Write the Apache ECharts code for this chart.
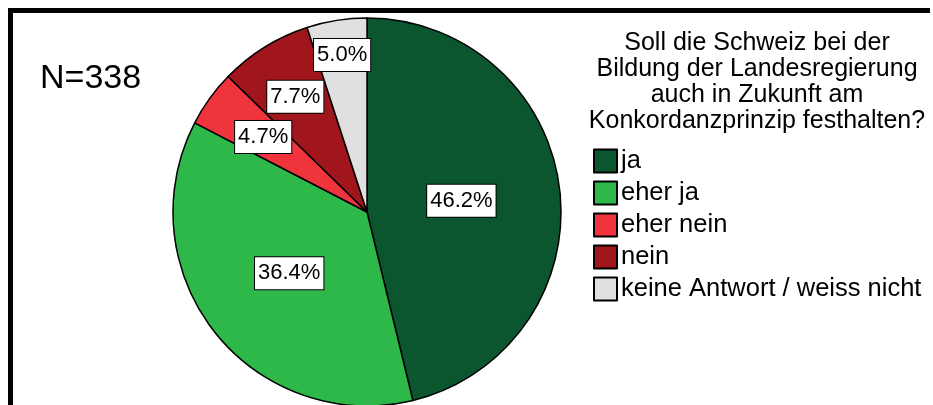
<!DOCTYPE html>
<html>
<head>
<meta charset="utf-8">
<script src="https://cdn.jsdelivr.net/npm/echarts@6/dist/echarts.min.js"></script>
<style>
  html, body { margin: 0; padding: 0; background: #fff; }
  #chart-container { width: 933px; height: 405px; }
</style>
</head>
<body>
<div id="chart-container"></div>
<script>
// Antwortkategorien und Anteile in Prozent
const categories = ["ja", "eher ja", "eher nein", "nein", "keine Antwort / weiss nicht"];
const percents = [46.2, 36.4, 4.7, 7.7, 5.0];
const colors = ["#0b562e", "#2fb84a", "#f0343e", "#a0161c", "#e0e0e0"];
const sampleSize = 338;
const legendTitle = "Soll die Schweiz bei der\nBildung der Landesregierung\nauch in Zukunft am\nKonkordanzprinzip festhalten?";

// Geometrie des Kuchens
const CX = 367, CY = 212, R = 194;
// wie weit aussen das Label sitzt (Anteil am Radius), kleine Stuecke weiter aussen
const labelRadius = [0.49, 0.51, 0.66, 0.70, 0.82];
const FONT = "'Liberation Sans', Arial, sans-serif";

const total = percents.reduce((a, b) => a + b, 0);
function midAngle(i) {
  let before = 0;
  for (let k = 0; k < i; k++) before += percents[k];
  return ((before + percents[i] / 2) / total) * 2 * Math.PI;
}

const chart = echarts.init(document.getElementById("chart-container"));
const option = {
  animation: false,
  color: colors,
  title: [
    {
      text: "N=" + sampleSize,
      left: 40,
      top: 62,
      padding: 0,
      textStyle: { fontFamily: FONT, fontSize: 34, fontWeight: "normal", color: "#000" }
    },
    {
      text: legendTitle,
      left: 757,
      top: 30,
      padding: 0,
      textAlign: "center",
      textStyle: { fontFamily: FONT, fontSize: 25, fontWeight: "normal", color: "#000", lineHeight: 26 }
    }
  ],
  legend: {
    orient: "vertical",
    left: 593,
    top: 148,
    icon: "rect",
    itemWidth: 23,
    itemHeight: 23,
    itemGap: 6,
    padding: 0,
    selectedMode: false,
    textStyle: { fontFamily: FONT, fontSize: 25.5, color: "#000", padding: [0, 0, 0, -1] },
    data: categories
  },
  graphic: [
    { type: "rect", shape: { x: 8, y: 8, width: 922, height: 5 }, style: { fill: "#000" } },
    { type: "rect", shape: { x: 8, y: 8, width: 5, height: 400 }, style: { fill: "#000" } }
  ],
  series: [
    {
      type: "pie",
      center: [CX, CY],
      radius: [0, R],
      startAngle: 90,
      clockwise: true,
      avoidLabelOverlap: false,
      itemStyle: { borderColor: "#000", borderWidth: 1.5 },
      emphasis: { disabled: true },
      label: {
        show: true,
        position: "inside",
        formatter: p => p.value.toFixed(1) + "%",
        fontFamily: FONT,
        fontSize: 22,
        lineHeight: 22,
        color: "#000",
        backgroundColor: "#fff",
        borderColor: "#000",
        borderWidth: 1,
        padding: [6, 3, 4, 3]
      },
      labelLayout: params => {
        const i = params.dataIndex;
        const a = midAngle(i);
        const r = labelRadius[i] * R;
        return { x: CX + r * Math.sin(a), y: CY - r * Math.cos(a) };
      },
      data: categories.map((name, i) => ({ name: name, value: percents[i] }))
    }
  ]
};
chart.setOption(option);
</script>
</body>
</html>
